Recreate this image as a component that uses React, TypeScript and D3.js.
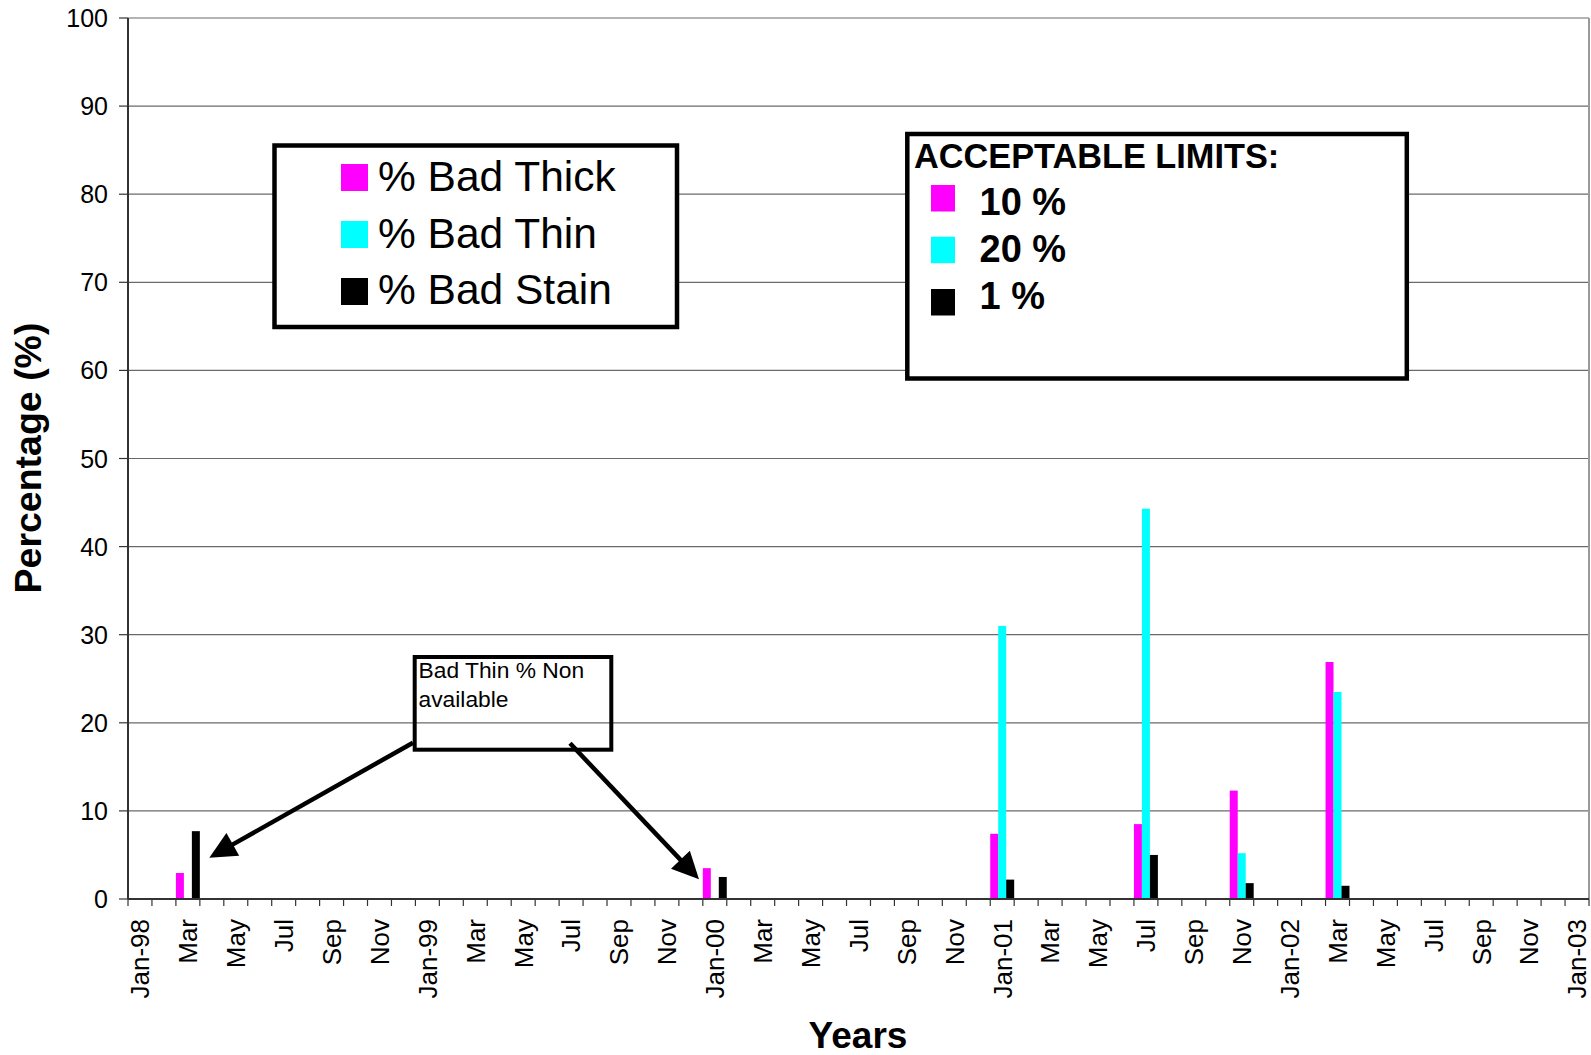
import React from "react";
import * as d3 from "d3";

// ---- data ----
const monthCategories: Date[] = d3.timeMonth.range(new Date(1998, 0, 1), new Date(2003, 1, 1)); // 61 months
const tickLabels = [
  "Jan-98", "Mar", "May", "Jul", "Sep", "Nov",
  "Jan-99", "Mar", "May", "Jul", "Sep", "Nov",
  "Jan-00", "Mar", "May", "Jul", "Sep", "Nov",
  "Jan-01", "Mar", "May", "Jul", "Sep", "Nov",
  "Jan-02", "Mar", "May", "Jul", "Sep", "Nov",
  "Jan-03",
];
const yTicks = [0, 10, 20, 30, 40, 50, 60, 70, 80, 90, 100];
const sampleMonths = ["1998-03", "2000-01", "2001-01", "2001-07", "2001-11", "2002-03"];
const badThick: (number | null)[] = [2.95, 3.5, 7.4, 8.5, 12.3, 26.9];
const badThin: (number | null)[] = [null, null, 31.0, 44.3, 5.2, 23.5];
const badStain: (number | null)[] = [7.7, 2.5, 2.2, 5.0, 1.8, 1.5];
const seriesNames = ["% Bad Thick", "% Bad Thin", "% Bad Stain"];
const seriesColors = ["#FF00FF", "#00FFFF", "#000000"];
const limitLabels = ["10 %", "20 %", "1 %"];

const W = 1591;
const H = 1055;
const FONT = "'Liberation Sans', Arial, Helvetica, sans-serif";

function monthIndex(s: string): number {
  const [y, m] = s.split("-").map(Number);
  return (y - 1998) * 12 + (m - 1);
}

function Arrow({ x1, y1, x2, y2 }: { x1: number; y1: number; x2: number; y2: number }) {
  const dx = x2 - x1, dy = y2 - y1;
  const len = Math.hypot(dx, dy);
  const ux = dx / len, uy = dy / len;
  const L = 27, Wd = 13;
  const bx = x2 - ux * L, by = y2 - uy * L;
  const px = -uy, py = ux;
  const pts = [
    [x2, y2],
    [bx + px * Wd, by + py * Wd],
    [bx - px * Wd, by - py * Wd],
  ];
  return (
    <g>
      <line x1={x1} y1={y1} x2={bx + ux * 4} y2={by + uy * 4} stroke="#000" strokeWidth={4.5} />
      <polygon points={pts.map((p) => p.join(",")).join(" ")} fill="#000" />
    </g>
  );
}

export default function App() {
  const left = 128, right = 1589, top = 18, bottom = 899;
  const x = d3.scaleBand<number>().domain(d3.range(monthCategories.length)).range([left, right]).padding(0);
  const bw = x.bandwidth();
  const sub = d3.scaleBand<number>().domain([0, 1, 2]).range([0, bw]).padding(0);
  const y = d3.scaleLinear().domain([0, 100]).range([bottom, top]);
  const series = [badThick, badThin, badStain];

  return (
    <svg width={W} height={H} style={{ position: "absolute", left: 0, top: 0, background: "#fff" }} fontFamily={FONT}>
      <rect x={0} y={0} width={W} height={H} fill="#fff" />
      {/* gridlines */}
      {yTicks.filter((t) => t > 0).map((t) => (
        <line key={t} x1={left} x2={right} y1={y(t)} y2={y(t)} stroke="#6a6a6a" strokeWidth={1.2} />
      ))}
      {/* right border */}
      <line x1={right} x2={right} y1={top} y2={bottom} stroke="#9a9a9a" strokeWidth={2} />

      {/* bars */}
      {sampleMonths.map((m, i) => {
        const ci = monthIndex(m);
        return series.map((s, si) => {
          const v = s[i];
          if (v == null) return null;
          return (
            <rect
              key={m + si}
              x={(x(ci) as number) + (sub(si) as number)}
              y={y(v)}
              width={sub.bandwidth()}
              height={y(0) - y(v)}
              fill={seriesColors[si]}
            />
          );
        });
      })}

      {/* y axis */}
      <line x1={left} x2={left} y1={top} y2={bottom} stroke="#333" strokeWidth={2} />
      {yTicks.map((t) => (
        <g key={t}>
          <line x1={left - 9} x2={left} y1={y(t)} y2={y(t)} stroke="#333" strokeWidth={1.2} />
          <text x={108} y={y(t)} dy="0.36em" textAnchor="end" fontSize={25} fill="#000">
            {t}
          </text>
        </g>
      ))}

      {/* x axis */}
      <line x1={left} x2={right} y1={bottom} y2={bottom} stroke="#333" strokeWidth={2} />
      {d3.range(monthCategories.length + 1).map((i) => {
        const xx = left + i * bw;
        return <line key={i} x1={xx} x2={xx} y1={bottom} y2={bottom + 7} stroke="#333" strokeWidth={1.2} />;
      })}
      {tickLabels.map((lab, k) => {
        const ci = k * 2;
        const cx = (x(ci) as number) + bw / 2;
        return (
          <text
            key={k}
            transform={`translate(${cx},919) rotate(-90)`}
            dy="0.36em"
            textAnchor="end"
            fontSize={26}
            fill="#000"
          >
            {lab}
          </text>
        );
      })}

      {/* axis titles */}
      <text transform="translate(41,458) rotate(-90)" textAnchor="middle" fontSize={37.5} fontWeight="bold" fill="#000">
        Percentage (%)
      </text>
      <text x={858} y={1048} textAnchor="middle" fontSize={37} fontWeight="bold" fill="#000">
        Years
      </text>

      {/* legend box */}
      <rect x={274.5} y={145.5} width={402.5} height={181.5} fill="#fff" stroke="#000" strokeWidth={4.5} />
      {seriesNames.map((n, i) => (
        <g key={n}>
          <rect x={341} y={164 + i * 57} width={27} height={27} fill={seriesColors[i]} />
          <text x={378} y={191 + i * 56.7} fontSize={42.5} fill="#000">
            {n}
          </text>
        </g>
      ))}

      {/* acceptable limits box */}
      <rect x={907.3} y={134} width={499.5} height={244.5} fill="#fff" stroke="#000" strokeWidth={4.5} />
      <text x={914} y={168} fontSize={34.3} fontWeight="bold" fill="#000">
        ACCEPTABLE LIMITS:
      </text>
      {limitLabels.map((l, i) => (
        <g key={l}>
          <rect x={931} y={[185, 236.7, 289][i]} width={24} height={26.5} fill={seriesColors[i]} />
          <text x={979.5} y={[215, 261.7, 309][i]} fontSize={38} fontWeight="bold" fill="#000">
            {l}
          </text>
        </g>
      ))}

      {/* annotation */}
      <Arrow x1={413} y1={742.7} x2={209.3} y2={857.7} />
      <Arrow x1={570} y1={743.3} x2={699} y2={879.3} />
      <rect x={414.7} y={657} width={196.6} height={92.7} fill="none" stroke="#000" strokeWidth={4} />
      <text x={418.5} y={678} fontSize={22.8} fill="#000">
        Bad Thin % Non
      </text>
      <text x={418.5} y={706.7} fontSize={22.8} fill="#000">
        available
      </text>
    </svg>
  );
}
